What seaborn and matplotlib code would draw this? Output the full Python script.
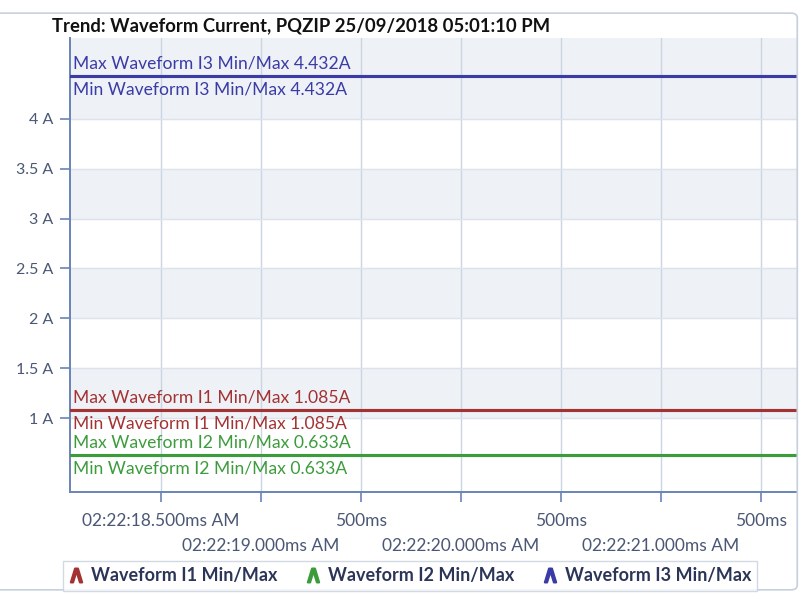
import pandas as pd
import matplotlib.pyplot as plt
import seaborn as sns
from matplotlib.lines import Line2D
from matplotlib.patches import FancyBboxPatch

##### Data ###################################################################

# time axis in seconds after 02:22:00 AM
times = [18.045, 21.68]
phases = ['I1', 'I2', 'I3']
max_values = [1.085, 0.633, 4.432]
min_values = [1.085, 0.633, 4.432]
phase_colors = ['#a33232', '#3c9c3c', '#3b3ba6']

y_ticks = [1, 1.5, 2, 2.5, 3, 3.5, 4]
y_tick_labels = ['1 A', '1.5 A', '2 A', '2.5 A', '3 A', '3.5 A', '4 A']
x_ticks_upper = [18.5, 19.5, 20.5, 21.5]
x_labels_upper = ['02:22:18.500ms AM', '500ms', '500ms', '500ms']
x_ticks_lower = [19.0, 20.0, 21.0]
x_labels_lower = ['02:22:19.000ms AM', '02:22:20.000ms AM', '02:22:21.000ms AM']

title = 'Trend: Waveform Current, PQZIP 25/09/2018 05:01:10 PM'

# long-form table: one row per time point per phase per min/max
rows = []
for phase, vmax, vmin in zip(phases, max_values, min_values):
    for t in times:
        rows.append({'time': t, 'current': vmax, 'phase': phase, 'stat': 'Max'})
        rows.append({'time': t, 'current': vmin, 'phase': phase, 'stat': 'Min'})
df = pd.DataFrame(rows)

##### Plot ###################################################################

sns.set_style('white')
plt.rcParams['font.family'] = ['Lato', 'DejaVu Sans']

fig = plt.figure(figsize=(8, 5.97), dpi=100)
ax = fig.add_axes([70 / 800, 105 / 597, 727 / 800, 454 / 597])

# alternating horizontal bands
band_color = '#eef1f6'
ax.axhspan(4, 5, color=band_color, zorder=0)
ax.axhspan(3, 3.5, color=band_color, zorder=0)
ax.axhspan(2, 2.5, color=band_color, zorder=0)
ax.axhspan(1, 1.5, color=band_color, zorder=0)

sns.lineplot(data=df, x='time', y='current', hue='phase', units='stat',
             estimator=None, palette=phase_colors, linewidth=2.2,
             legend=False, ax=ax, zorder=3)

ax.set_xlim(18.045, 21.68)
ax.set_ylim(0.26, 4.81)
ax.set_xlabel('')
ax.set_ylabel('')

# y axis
ax.set_yticks(y_ticks)
ax.set_yticklabels(y_tick_labels)
ax.tick_params(axis='y', length=7, width=1.2, color='#6a84b8', pad=5,
               labelsize=11.5, labelcolor='#4a5775', left=True)

# x axis: two rows of tick labels
ax.set_xticks(x_ticks_upper)
ax.set_xticklabels(x_labels_upper)
ax.set_xticks(x_ticks_lower, minor=True)
ax.set_xticklabels(x_labels_lower, minor=True)
ax.tick_params(axis='x', which='major', length=7, width=1.2, color='#6a84b8',
               pad=8, labelsize=12.5, labelcolor='#4a5775', bottom=True)
ax.tick_params(axis='x', which='minor', length=7, width=1.2, color='#6a84b8',
               pad=26, labelsize=12.5, labelcolor='#4a5775', bottom=True)

ax.grid(True, which='both', axis='x', color='#cbd4e2', linewidth=1)
ax.grid(True, which='major', axis='y', color='#dde3ec', linewidth=1)
ax.set_axisbelow(True)

for side in ['top', 'right']:
    ax.spines[side].set_visible(False)
for side in ['left', 'bottom']:
    ax.spines[side].set_color('#6a84b8')
    ax.spines[side].set_linewidth(1.4)

# min/max labels for each line
for phase, vmax, vmin, color in zip(phases, max_values, min_values, phase_colors):
    ax.annotate(f'Max Waveform {phase} Min/Max {vmax:.3f}A', xy=(18.045, vmax),
                xytext=(3, 12), textcoords='offset pixels', va='center',
                ha='left', color=color, fontsize=12.6, zorder=4)
    ax.annotate(f'Min Waveform {phase} Min/Max {vmin:.3f}A', xy=(18.045, vmin),
                xytext=(3, -14), textcoords='offset pixels', va='center',
                ha='left', color=color, fontsize=12.6, zorder=4)

# title
fig.text(52 / 800, 1 - 26 / 597, title, fontsize=13.3, fontweight='bold',
         color='#111111', ha='left', va='center')

# outer frame
frame = FancyBboxPatch((-0.02, 0.012), 1.0166, 0.966,
                       boxstyle='round,pad=0,rounding_size=0.008',
                       transform=fig.transFigure, fill=False,
                       edgecolor='#c6d0de', linewidth=1.2)
fig.patches.append(frame)

# legend
handles = [Line2D([], [], linestyle='none', marker=r'$\wedge$', markersize=10,
                  color=c, markeredgewidth=1.5) for c in phase_colors]
labels = [f'Waveform {p} Min/Max' for p in phases]
leg = fig.legend(handles, labels, loc='center', bbox_to_anchor=(410 / 800, 1 - 576 / 597),
                 ncol=3, frameon=True, handlelength=0.8,
                 handletextpad=0.4, columnspacing=1.6, borderpad=0.35,
                 fancybox=False, edgecolor='#c6d0de', prop={'weight': 'bold', 'size': 13})
for text in leg.get_texts():
    text.set_color('#2b3558')

fig.savefig('out.png', dpi=100)
